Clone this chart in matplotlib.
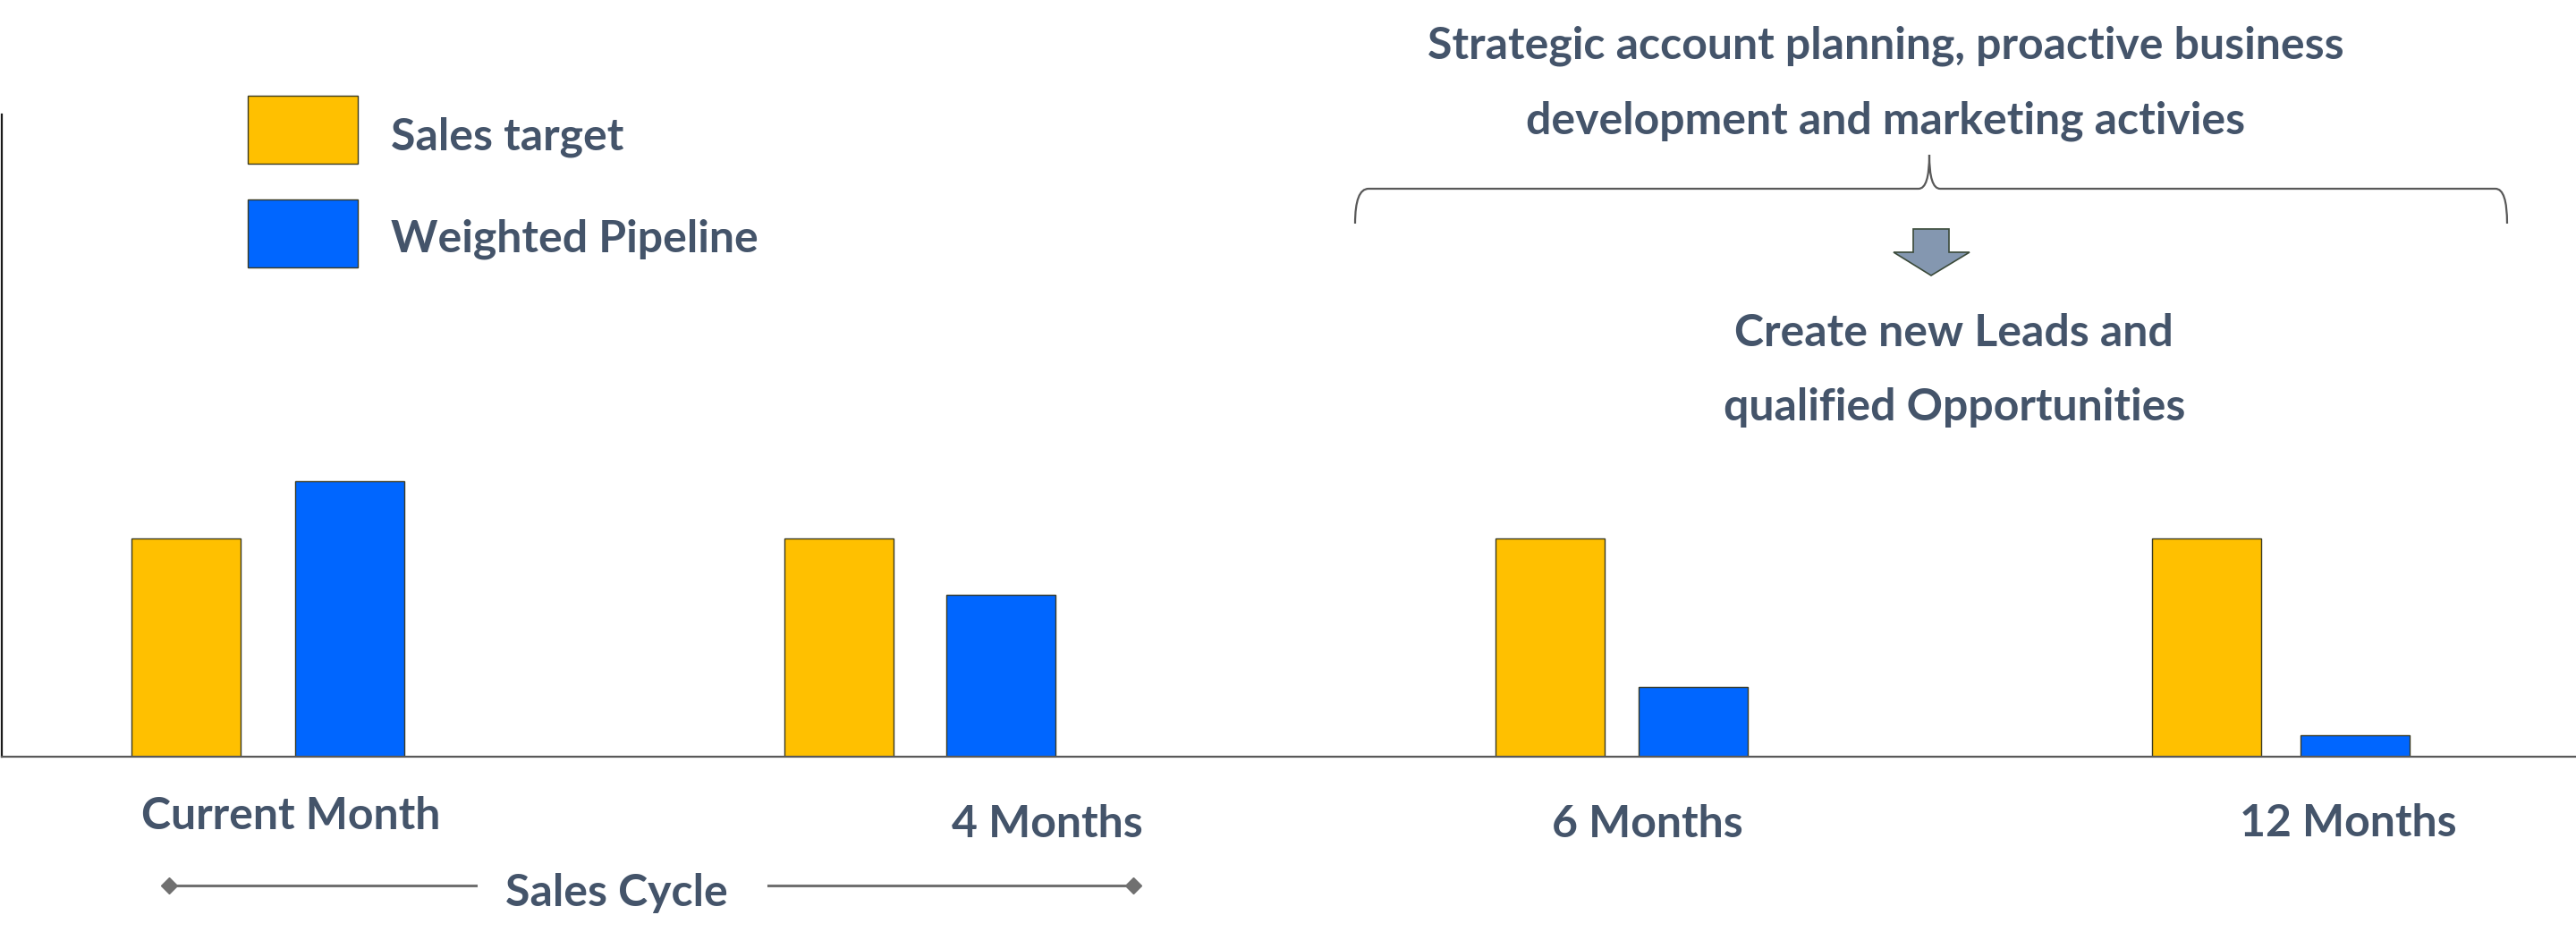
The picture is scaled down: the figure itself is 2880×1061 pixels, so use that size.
import matplotlib
matplotlib.use('Agg')
import matplotlib.pyplot as plt
from matplotlib.patches import Rectangle, Polygon, PathPatch
from matplotlib.path import Path

# data
categories = ['Current Month', '4 Months', '6 Months', '12 Months']
sales_target = [100, 100, 100, 100]
weighted_pipeline = [126, 74, 32, 10]
series_names = ['Sales target', 'Weighted Pipeline']

# layout (pixel units of the 2880 x 1061 picture)
x_target = [206, 936, 1731, 2465]
x_pipe = [389, 1117, 1891, 2631]
label_x = [325, 1171, 1842, 2625]
label_y = [927, 936, 936, 935]
bar_w = 122

yellow = '#FFC000'
blue = '#0066FF'
txt_col = '#44546A'
edge = '#3A3A22'
fnt = ['Lato', 'DejaVu Sans']
fs = 36

fig = plt.figure(figsize=(28.8, 10.61), dpi=100)

# overlay for texts and shapes
ov = fig.add_axes([0, 0, 1, 1])
ov.set_xlim(0, 2880)
ov.set_ylim(1061, 0)
ov.axis('off')

ax = fig.add_axes([0.0007, (1061 - 846) / 1061, 2878 / 2880, (846 - 128) / 1061])
ax.patch.set_alpha(0)
ax.bar(x_target, sales_target, width=bar_w, color=yellow, edgecolor=edge, linewidth=1, zorder=2)
ax.bar(x_pipe, weighted_pipeline, width=bar_w, color=blue, edgecolor=edge, linewidth=1, zorder=2)
ax.set_xlim(0, 2878)
ax.set_ylim(0, 294)
ax.set_xticks([])
ax.set_yticks([])
for s in ['top', 'right']:
    ax.spines[s].set_visible(False)
ax.spines['left'].set_color('#1a1a1a')
ax.spines['left'].set_linewidth(1.6)
ax.spines['bottom'].set_color('#595959')
ax.spines['bottom'].set_linewidth(1.6)
ax.spines['bottom'].set_zorder(3)

# category labels
for c, lx, ly in zip(categories, label_x, label_y):
    ov.text(lx, ly, c, ha='center', va='baseline', fontsize=fs, fontweight='bold',
            color=txt_col, family=fnt)

# legend
ov.add_patch(Rectangle((277, 107), 123, 76, facecolor=yellow, edgecolor=edge, lw=1))
ov.add_patch(Rectangle((277, 223), 123, 76, facecolor=blue, edgecolor=edge, lw=1))
ov.text(437, 167, series_names[0], ha='left', va='baseline', fontsize=fs, fontweight='bold',
        color=txt_col, family=fnt)
ov.text(437, 282, series_names[1], ha='left', va='baseline', fontsize=fs, fontweight='bold',
        color=txt_col, family=fnt)

# top annotation
ov.text(2108, 66, 'Strategic account planning, proactive business', ha='center', va='baseline',
        fontsize=fs, fontweight='bold', color=txt_col, family=fnt)
ov.text(2108, 150, 'development and marketing activies', ha='center', va='baseline',
        fontsize=fs, fontweight='bold', color=txt_col, family=fnt)

# brace
verts = [(1515, 250), (1515, 211), (1530, 211),
         (2145, 211),
         (2157, 211), (2157, 173),
         (2157, 211), (2169, 211),
         (2790, 211),
         (2803, 211), (2803, 250)]
codes = [Path.MOVETO, Path.CURVE3, Path.CURVE3,
         Path.LINETO,
         Path.CURVE3, Path.CURVE3,
         Path.CURVE3, Path.CURVE3,
         Path.LINETO,
         Path.CURVE3, Path.CURVE3]
ov.add_patch(PathPatch(Path(verts, codes), facecolor='none', edgecolor='#595959', lw=1.6))

# block arrow
arrow = [(2139, 256), (2179, 256), (2179, 282), (2202, 282), (2159, 308),
         (2117, 282), (2139, 282)]
ov.add_patch(Polygon(arrow, closed=True, facecolor='#8497B0', edgecolor='#3B4A3A', lw=1.2))

ov.text(2184, 387, 'Create new Leads and', ha='center', va='baseline',
        fontsize=fs, fontweight='bold', color=txt_col, family=fnt)
ov.text(2185, 470, 'qualified Opportunities', ha='center', va='baseline',
        fontsize=fs, fontweight='bold', color=txt_col, family=fnt)

# sales cycle
ov.plot([189, 532], [990, 990], color='#707070', lw=2.2)
ov.plot([859, 1267], [990, 990], color='#707070', lw=2.2)
ov.plot([189, 1267], [990, 990], ls='none', marker='D', ms=9, color='#707070')
ov.text(689, 1013, 'Sales Cycle', ha='center', va='baseline', fontsize=fs, fontweight='bold',
        color=txt_col, family=fnt)

fig.savefig('out.png', dpi=100)
